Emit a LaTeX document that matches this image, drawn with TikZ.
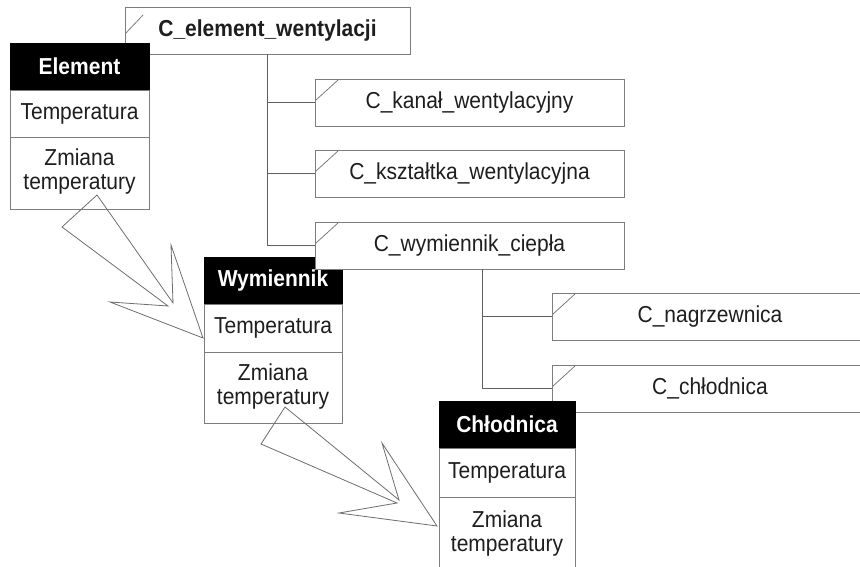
\documentclass[tikz,border=0pt]{standalone}
\usepackage{fontspec}
\setmainfont{Liberation Sans}
\usetikzlibrary{calc}
\definecolor{boxgray}{RGB}{125,125,125}
\definecolor{treegray}{RGB}{95,95,95}
\definecolor{arrowgray}{RGB}{110,110,110}
\definecolor{inkgray}{RGB}{30,30,30}
% labels are set slightly taller than the plain font
\newcommand\tallt[1]{\scalebox{1}[1.1]{#1}}
\newcommand\twolines[2]{\tallt{\begin{tabular}{@{}c@{}}#1\\#2\end{tabular}}}
\begin{document}
\begin{tikzpicture}[x=1pt,y=-1pt,
  box/.style={draw=boxgray, line width=0.9pt, fill=white, anchor=north west,
    inner sep=0pt, outer sep=0pt, align=center, text=inkgray,
    font=\fontsize{21}{21.5}\selectfont},
  hdrbox/.style={box, draw=black, fill=black, text=white,
    font=\bfseries\fontsize{21}{21.5}\selectfont},
  leafbox/.style={box, minimum width=309pt, minimum height=47pt},
  wideleaf/.style={box, minimum width=316pt, minimum height=47pt},
  slash/.style={draw=boxgray, line width=0.8pt},
  tree/.style={draw=treegray, line width=0.9pt},
  bigarrow/.style={draw=arrowgray, line width=0.8pt, line join=miter}
]
\useasboundingbox (0,0) rectangle (860,567);
\clip (0,0) rectangle (860,567);
\fill[white] (0,0) rectangle (860,567);

% root of the class tree
\node[box, minimum width=285pt, minimum height=47pt,
  font=\bfseries\fontsize{21}{21.5}\selectfont] (elw) at (125,7) {\tallt{C\_element\_wentylacji}};
\draw[slash] ($(elw.north west)+(1,26)$) -- ($(elw.north west)+(18,8)$);

% first level of the tree
\node[leafbox] (kan) at (315,79)  {\tallt{C\_kanał\_wentylacyjny}};
\node[leafbox] (ksz) at (315,150) {\tallt{C\_kształtka\_wentylacyjna}};

% class Element
\node[hdrbox, minimum width=139pt, minimum height=47pt] (elh) at (10,43) {\tallt{Element}};
\node[box, minimum width=139pt, minimum height=47pt] (elt) at (elh.south west) {\tallt{Temperatura}};
\node[box, minimum width=139pt, minimum height=72pt] (elz) at (elt.south west) {\twolines{Zmiana}{temperatury}};

% class Wymiennik
\node[hdrbox, minimum width=138pt, minimum height=47pt] (wyh) at (204,257) {\tallt{Wymiennik}};
\node[box, minimum width=138pt, minimum height=48pt] (wyt) at (wyh.south west) {\tallt{Temperatura}};
\node[box, minimum width=138pt, minimum height=71pt] (wyz) at (wyt.south west) {\twolines{Zmiana}{temperatury}};

\node[leafbox] (wym) at (315,222) {\tallt{C\_wymiennik\_ciepła}};

% second level of the tree
\node[wideleaf] (nag) at (552,293) {\tallt{C\_nagrzewnica}};
\node[wideleaf] (chl) at (552,365) {\tallt{C\_chłodnica}};

\foreach \n in {kan,ksz,wym,nag,chl}
  \draw[slash] ($(\n.north west)+(1,21)$) -- ($(\n.north west)+(23,1)$);

% tree connectors
\coordinate (wymj) at ($(wym.south west)+(167,0)$);
\draw[tree] (elw.south) |- (kan.west);
\draw[tree] (elw.south) |- (ksz.west);
\draw[tree] (elw.south) |- (wym.west);
\draw[tree] (wymj) |- (nag.west);
\draw[tree] (wymj) |- (chl.west);

% class Chłodnica
\node[hdrbox, minimum width=136pt, minimum height=47pt] (chh) at (439,401) {\tallt{Chłodnica}};
\node[box, minimum width=136pt, minimum height=49pt] (cht) at (chh.south west) {\tallt{Temperatura}};
\node[box, minimum width=136pt, minimum height=76pt] (chz) at (cht.south west) {\twolines{Zmiana}{temperatury}};

% inheritance arrows between the classes
\draw[bigarrow] (97,195) -- (62,227) -- (168,306) -- (110,302) -- (203,338)
  -- (171,245) -- (173,303) -- cycle;
\draw[bigarrow] (285,407) -- (261,444) -- (397,503) -- (339,513) -- (437,526)
  -- (382,443) -- (399,500) -- cycle;
\end{tikzpicture}
\end{document}
